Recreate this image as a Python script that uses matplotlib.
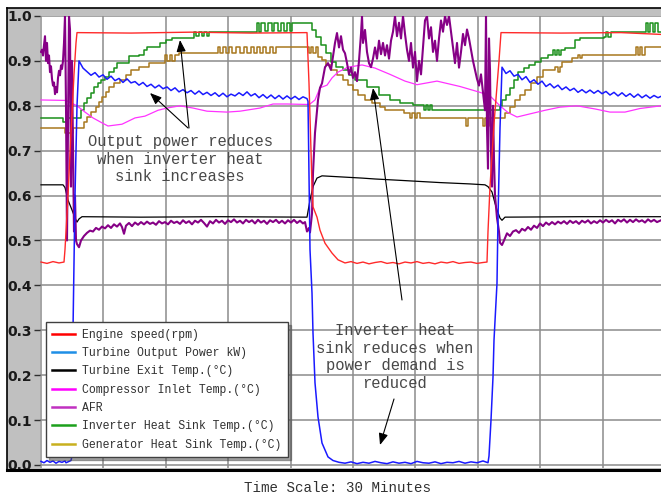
import numpy as np
import matplotlib
matplotlib.use("Agg")
import matplotlib.pyplot as plt
from matplotlib.lines import Line2D
from matplotlib.patches import Rectangle

# ---------------- data (x = logger sample index, 20.8 samples per minute) ----------------
SAMPLES_PER_MIN = 20.8

series_labels = ["Engine speed(rpm)", "Turbine Output Power kW)", "Turbine Exit Temp.(\u00b0C)",
                 "Compressor Inlet Temp.(\u00b0C)", "AFR", "Inverter Heat Sink Temp.(\u00b0C)",
                 "Generator Heat Sink Temp.(\u00b0C)"]

engine_x = [0, 6, 12, 18, 23, 24, 27, 30, 33, 35, 36, 90, 150, 210, 266, 268, 270, 271, 272,
            276, 279, 284, 291, 297, 304,
            310, 316, 322, 328, 334, 340, 346, 352, 358, 364, 370, 376, 382, 388, 394, 400, 406,
            412, 418, 424, 430, 436, 442,
            446, 447, 449, 453, 458, 460, 520, 580, 620]
engine_y = [0.452, 0.449, 0.453, 0.450, 0.452, 0.48, 0.60, 0.74, 0.87, 0.94, 0.963, 0.962, 0.964,
            0.962, 0.963, 0.85, 0.70, 0.62, 0.575,
            0.552, 0.523, 0.494, 0.472, 0.457, 0.450,
            0.453, 0.449, 0.452, 0.448, 0.451, 0.453, 0.449, 0.451, 0.448, 0.452, 0.450, 0.453,
            0.449, 0.451, 0.448, 0.452, 0.450, 0.453, 0.449, 0.451, 0.452, 0.449, 0.451,
            0.452, 0.52, 0.62, 0.76, 0.90, 0.963, 0.962, 0.963, 0.959]

power_x = ([0, 3, 6, 9, 12, 15, 18, 21, 24, 25, 30, 31, 32, 34, 36]
           + list(range(38, 267, 4))
           + [267, 269, 271, 272, 274, 277, 281, 287]
           + list(range(292, 443, 6))
           + [446, 447, 448, 450, 452, 453, 456, 457, 459]
           + list(range(461, 618, 4)) + [620])
power_y = ([0.008, 0.005, 0.010, 0.006, 0.009, 0.004, 0.008, 0.006, 0.009, 0.005, 0.01, 0.02,
            0.30, 0.60, 0.80]
           + [0.900, 0.884, 0.876, 0.868, 0.874, 0.864, 0.869, 0.859, 0.866, 0.856,
              0.861, 0.852, 0.860, 0.851, 0.854, 0.846, 0.852, 0.843, 0.848, 0.840,
              0.846, 0.838, 0.842, 0.834, 0.840, 0.831, 0.836, 0.829, 0.834, 0.826,
              0.833, 0.825, 0.830, 0.823, 0.829, 0.821, 0.828, 0.820, 0.826, 0.822,
              0.829, 0.823, 0.831, 0.822, 0.827, 0.818, 0.825, 0.817, 0.824, 0.816,
              0.823, 0.815, 0.822, 0.815, 0.821, 0.814, 0.820, 0.816]
           + [0.81, 0.48, 0.383, 0.294, 0.183, 0.107, 0.049, 0.018]
           + [0.010, 0.006, 0.004, 0.007, 0.003, 0.006, 0.004, 0.008, 0.005, 0.003, 0.007,
              0.004, 0.006, 0.003, 0.008, 0.005, 0.004, 0.007, 0.003, 0.006, 0.005, 0.008,
              0.004, 0.007, 0.005, 0.009]
           + [0.006, 0.005, 0.02, 0.10, 0.196, 0.278, 0.405, 0.55, 0.75]
           + [0.886, 0.872, 0.878, 0.866, 0.870, 0.858, 0.865, 0.852, 0.858, 0.848,
              0.855, 0.843, 0.849, 0.840, 0.846, 0.836, 0.842, 0.834, 0.839, 0.830,
              0.836, 0.829, 0.835, 0.828, 0.834, 0.827, 0.832, 0.824, 0.830, 0.822,
              0.829, 0.821, 0.827, 0.819, 0.826, 0.818, 0.824, 0.817, 0.823, 0.818]
           + [0.821])

exit_x = [0, 22, 24, 27, 31, 34, 36, 38, 41, 100, 180, 266, 269, 272, 276, 281, 321, 334, 359,
          399, 429, 444, 447, 451, 454, 456, 459, 461, 464, 540, 620]
exit_y = [0.624, 0.624, 0.618, 0.59, 0.568, 0.55, 0.541, 0.548, 0.553, 0.552, 0.553, 0.552, 0.59,
          0.62, 0.639, 0.644, 0.639, 0.637, 0.634, 0.629, 0.626, 0.624, 0.62, 0.608, 0.583, 0.568,
          0.55, 0.545, 0.552, 0.553, 0.553]

inlet_x = [0, 24, 27, 36, 44, 52, 61, 67, 81, 94, 104, 117, 126, 139, 152, 166, 186, 199, 219,
           232, 246, 266, 269, 274, 279, 286, 291, 297, 307, 321, 334, 349, 364, 376, 396, 419,
           439, 449, 459, 467, 476, 489, 504, 519, 536, 554, 569, 584, 599, 620]
inlet_y = [0.813, 0.812, 0.81, 0.80, 0.786, 0.773, 0.762, 0.755, 0.759, 0.773, 0.777, 0.79, 0.795,
           0.80, 0.795, 0.788, 0.786, 0.788, 0.795, 0.804, 0.804, 0.803, 0.804, 0.813, 0.84, 0.846,
           0.862, 0.875, 0.886, 0.891, 0.884, 0.87, 0.855, 0.847, 0.855, 0.843, 0.83, 0.822, 0.80,
           0.785, 0.775, 0.782, 0.79, 0.797, 0.80, 0.793, 0.786, 0.786, 0.794, 0.80]

afr_x = ([0, 1, 2, 3, 4, 5, 6, 7, 8, 9, 10, 11, 12, 13, 14, 15, 16, 17, 18, 19, 20, 21, 22, 23,
          24, 25, 26, 27, 28, 29, 30, 31, 32, 33, 34, 35, 36, 38, 40]
         + [43, 46, 49, 52, 55, 58, 61, 64, 67, 70, 73, 76, 79, 81, 83, 85, 88, 91, 94, 97, 100,
            103, 106, 109, 112, 115, 118, 121, 124, 127, 130, 133, 136, 139, 142, 145, 148, 151,
            154, 157, 160, 163, 166, 169, 172, 175, 178, 181, 184, 187, 190, 193, 196, 199, 202,
            205, 208, 211, 214, 217, 220, 223, 226, 229, 232, 235, 238, 241, 244, 247, 250, 253,
            256, 259, 262, 264]
         + [266, 268, 269, 271, 272, 274, 277, 279, 281, 284, 287, 290, 292, 294, 296, 298, 300,
            302, 304, 306, 308, 310, 312, 314, 316, 318, 320, 321, 322, 324, 326, 328, 330, 332,
            334, 336, 338, 340, 342, 344, 346, 348, 350, 352, 354, 356, 358, 360, 362, 364, 366,
            368, 370, 372, 374, 376, 378, 380, 382, 384, 386, 388, 390, 392, 394, 396, 398, 400,
            402, 404, 406, 408, 410, 412, 414, 416, 418, 420, 422, 424, 426, 428, 430, 432, 434,
            436, 438, 440, 442, 444, 445, 446, 447, 448, 449, 450, 451, 452, 453, 454, 456, 458]
         + [459, 461, 463, 466, 469, 472, 475, 478, 481, 484, 487, 490, 493, 496, 499, 502, 505,
            508, 511, 514, 517, 520, 523, 526, 529, 532, 535, 538, 541, 544, 547, 550, 553, 556,
            559, 562, 565, 568, 571, 574, 577, 580, 583, 586, 589, 592, 595, 598, 601, 604, 607,
            610, 613, 616, 620])
afr_y = ([0.92, 0.925, 0.912, 0.935, 0.955, 0.90, 0.94, 0.895, 0.912, 0.875, 0.888, 0.86, 0.845,
          0.852, 0.826, 0.842, 0.83, 0.862, 0.878, 0.868, 0.89, 0.882, 0.90, 0.94, 1.0, 0.80,
          0.50, 0.75, 1.0, 0.97, 0.62, 0.90, 0.70, 0.52, 0.60, 0.50, 0.492, 0.485, 0.50]
         + [0.51, 0.517, 0.522, 0.52, 0.528, 0.524, 0.531, 0.527, 0.534, 0.528, 0.536, 0.531,
            0.538, 0.53, 0.515, 0.533, 0.539, 0.532, 0.54, 0.535, 0.541, 0.536, 0.542, 0.537,
            0.54, 0.535, 0.543, 0.538, 0.541, 0.536, 0.544, 0.539, 0.542, 0.537, 0.545, 0.539,
            0.543, 0.536, 0.544, 0.54, 0.546, 0.539, 0.531, 0.543, 0.538, 0.546, 0.54, 0.544,
            0.537, 0.545, 0.541, 0.547, 0.54, 0.544, 0.538, 0.546, 0.541, 0.545, 0.538, 0.546,
            0.54, 0.544, 0.537, 0.545, 0.541, 0.546, 0.539, 0.544, 0.538, 0.545, 0.54, 0.546,
            0.539, 0.544, 0.538, 0.541]
         + [0.52, 0.528, 0.518, 0.56, 0.65, 0.74, 0.813, 0.84, 0.85, 0.886, 0.895, 0.88, 0.91,
            0.94, 0.962, 0.93, 0.955, 0.925, 0.917, 0.895, 0.87, 0.885, 0.862, 0.875, 0.855,
            0.90, 0.96, 1.0, 0.94, 0.969, 0.92, 0.895, 0.886, 0.905, 0.93, 0.905, 0.945, 0.915,
            0.94, 0.912, 0.935, 0.905, 0.945, 0.965, 1.0, 0.955, 0.985, 0.95, 1.0, 0.96, 0.925,
            0.90, 0.94, 0.885, 0.92, 0.855, 0.90, 0.87, 0.93, 0.99, 1.0, 0.95, 0.975, 0.92,
            0.945, 0.90, 0.95, 0.99, 0.965, 1.0, 0.98, 1.0, 0.965, 0.93, 0.895, 0.94, 0.885,
            0.92, 0.96, 0.935, 0.97, 0.95, 0.925, 0.90, 0.88, 0.86, 0.845, 0.87, 0.83, 0.79,
            1.0, 0.75, 0.66, 0.95, 0.88, 0.70, 0.62, 0.80, 0.68, 0.60, 0.55, 0.52]
         + [0.495, 0.49, 0.50, 0.516, 0.51, 0.52, 0.523, 0.517, 0.526, 0.522, 0.53, 0.524, 0.533,
            0.528, 0.538, 0.532, 0.54, 0.535, 0.541, 0.536, 0.542, 0.538, 0.543, 0.537, 0.544,
            0.539, 0.543, 0.537, 0.544, 0.54, 0.545, 0.538, 0.543, 0.539, 0.545, 0.54, 0.546,
            0.541, 0.545, 0.538, 0.546, 0.542, 0.547, 0.54, 0.546, 0.541, 0.547, 0.542, 0.545,
            0.54, 0.547, 0.542, 0.546, 0.541, 0.545])

inverter_x = [0, 22, 25, 40, 43, 46, 50, 53, 57, 60, 64, 68, 73, 76, 88, 98, 103, 106, 119, 125,
              131, 153, 155, 158, 161, 163, 166, 168, 216, 218, 220, 224, 227, 231, 233, 237, 240,
              243, 246, 249, 251, 271, 275, 280, 285, 290, 295, 302, 308, 314, 326, 338, 349, 359,
              372, 383, 385, 387, 389, 391, 459, 461, 465, 469, 473, 477, 483, 488, 494, 500, 507,
              512, 514, 516, 518, 520, 524, 534, 539, 563, 565, 567, 570, 605, 607, 609, 612, 614,
              617, 620]
inverter_y = [0.773, 0.764, 0.773, 0.79, 0.806, 0.817, 0.828, 0.842, 0.85, 0.857, 0.864, 0.875,
              0.884, 0.895, 0.91, 0.913, 0.924, 0.931, 0.94, 0.947, 0.95, 0.965, 0.955, 0.965,
              0.955, 0.965, 0.955, 0.965, 0.984, 0.965, 0.984, 0.967, 0.984, 0.967, 0.984, 0.967,
              0.984, 0.967, 0.984, 0.967, 0.984, 0.969, 0.953, 0.935, 0.917, 0.898, 0.886, 0.88,
              0.868, 0.857, 0.842, 0.824, 0.813, 0.806, 0.802, 0.79, 0.802, 0.79, 0.802, 0.79,
              0.80, 0.813, 0.824, 0.84, 0.857, 0.875, 0.884, 0.89, 0.898, 0.906, 0.913, 0.924,
              0.913, 0.924, 0.913, 0.924, 0.929, 0.947, 0.95, 0.953, 0.965, 0.953, 0.965, 0.984,
              0.965, 0.984, 0.965, 0.984, 0.965, 0.965]

generator_x = [0, 24, 32, 43, 46, 50, 55, 58, 61, 65, 68, 73, 79, 85, 90, 98, 108, 124, 126, 129,
               131, 134, 138, 177, 179, 182, 185, 188, 191, 195, 199, 203, 206, 210, 213, 216,
               219, 222, 225, 229, 232, 235, 268, 270, 272, 275, 277, 281, 285, 290, 296, 302,
               307, 312, 317, 324, 331, 339, 344, 363, 369, 371, 374, 376, 379, 425, 427, 442,
               444, 446, 448, 464, 469, 474, 479, 484, 490, 496, 502, 514, 517, 519, 521, 531,
               537, 539, 541, 595, 597, 599, 601, 604, 620]
generator_y = [0.75, 0.739, 0.75, 0.764, 0.775, 0.786, 0.797, 0.808, 0.82, 0.83, 0.842, 0.85,
               0.857, 0.868, 0.88, 0.886, 0.895, 0.913, 0.90, 0.913, 0.90, 0.913, 0.918, 0.93,
               0.918, 0.93, 0.918, 0.93, 0.918, 0.93, 0.918, 0.93, 0.918, 0.93, 0.918, 0.93,
               0.918, 0.93, 0.918, 0.93, 0.918, 0.93, 0.918, 0.93, 0.918, 0.93, 0.909, 0.902,
               0.891, 0.88, 0.868, 0.857, 0.846, 0.835, 0.824, 0.813, 0.806, 0.797, 0.79, 0.784,
               0.773, 0.784, 0.773, 0.784, 0.773, 0.755, 0.773, 0.755, 0.773, 0.755, 0.773,
               0.784, 0.797, 0.813, 0.824, 0.835, 0.85, 0.864, 0.88, 0.886, 0.875, 0.886, 0.898,
               0.906, 0.913, 0.906, 0.913, 0.93, 0.913, 0.93, 0.913, 0.93, 0.93]

y_ticks = [0.0, 0.1, 0.2, 0.3, 0.4, 0.5, 0.6, 0.7, 0.8, 0.9, 1.0]

# ---------------- figure ----------------
W, H = 661, 495
fig = plt.figure(figsize=(W / 100, H / 100), dpi=100)
fig.patch.set_facecolor("white")


def fx(px):
    return px / W


def fy(py):
    return 1 - py / H


# grey instrument frame
fig.add_artist(Rectangle((fx(7), fy(470)), 1.0, (470 - 8) / H, transform=fig.transFigure,
                         facecolor="#c0c0c0", edgecolor="none", zorder=0))
fig.add_artist(Line2D([fx(7), fx(7)], [fy(8), fy(470)], transform=fig.transFigure,
                      color="black", lw=1.2, zorder=1))
fig.add_artist(Line2D([fx(7), 1.0], [fy(8), fy(8)], transform=fig.transFigure,
                      color="black", lw=1.2, zorder=1))
fig.add_artist(Line2D([fx(7), 1.0], [fy(469.5), fy(469.5)], transform=fig.transFigure,
                      color="black", lw=2.2, zorder=1))

ax = fig.add_axes([fx(40), fy(467.5), 1 - fx(40), (467.5 - 15.5) / H])
ax.set_facecolor("white")
ax.set_xlim(-1, 620)
ax.set_ylim(-2.5 / 449, 1 + 0.5 / 449)
for s in ax.spines.values():
    s.set_visible(False)

grid_step = 3 * SAMPLES_PER_MIN
ax.set_xticks([k * grid_step for k in range(10)])
ax.set_xticklabels([])
ax.tick_params(axis="x", length=0)
ax.set_yticks(y_ticks)
ax.set_yticklabels([f"{v:.1f}" for v in y_ticks])
ax.tick_params(axis="y", direction="out", length=4, width=1.0, color="#303030", pad=2,
               labelsize=10, labelcolor="#1a1a1a")
for lbl in ax.get_yticklabels():
    lbl.set_fontweight("bold")
ax.grid(True, color="#8c8c8c", lw=1.1)
ax.set_axisbelow(True)

ax.step(generator_x, generator_y, where="post", color="#a8781e", lw=1.1, zorder=2)
ax.step(inverter_x, inverter_y, where="post", color="#1a8f1a", lw=1.1, zorder=3)
ax.plot(inlet_x, inlet_y, color="#ff33ff", lw=0.9, zorder=4)
ax.plot(exit_x, exit_y, color="black", lw=0.9, zorder=5)
ax.plot(afr_x, afr_y, color="#860086", lw=1.5, zorder=6)
ax.plot(power_x, power_y, color="#1a1aff", lw=1.1, zorder=7)
ax.plot(engine_x, engine_y, color="#ff2a2a", lw=1.0, zorder=8)

# annotations
note_font = dict(family="Liberation Mono", size=11.2, color="#484848")
ax.text(139, 0.6815, "Output power reduces\nwhen inverter heat\nsink increases",
        ha="center", va="center", multialignment="center", linespacing=1.2, zorder=9, **note_font)
ax.text(354, 0.2405, "Inverter heat\nsink reduces when\npower demand is\nreduced",
        ha="center", va="center", multialignment="center", linespacing=1.2, zorder=9, **note_font)

arrow_kw = dict(arrowstyle="-|>,head_length=0.5,head_width=0.2", color="black", lw=0.8,
                shrinkA=0, shrinkB=0, mutation_scale=14)
ax.annotate("", xy=(109, 0.8285), xytext=(147, 0.7506), arrowprops=arrow_kw, zorder=10)
ax.annotate("", xy=(139, 0.9465), xytext=(148, 0.7506), arrowprops=arrow_kw, zorder=10)
ax.annotate("", xy=(332, 0.8396), xytext=(361, 0.3675), arrowprops=arrow_kw, zorder=10)
ax.annotate("", xy=(339, 0.0445), xytext=(353, 0.147), arrowprops=arrow_kw, zorder=10)

# legend
legend_colors = ["#ff0000", "#1e8fe6", "#000000", "#ff00ff", "#c030c0", "#1ca01c", "#c8b01e"]
handles = [Line2D([], [], color=c, lw=1.8) for c in legend_colors]
leg = ax.legend(handles, series_labels, loc="lower left", bbox_to_anchor=(fx(46), fy(457)),
                bbox_transform=fig.transFigure, prop=dict(family="Liberation Mono", size=8.3),
                frameon=True, fancybox=False, shadow=True, framealpha=1, edgecolor="#404040",
                borderaxespad=0, borderpad=0.55, labelspacing=0.55, handlelength=2.0,
                handletextpad=0.6)
leg.get_frame().set_linewidth(1.0)
leg.set_zorder(11)
for t in leg.get_texts():
    t.set_color("#303030")

fig.text(fx(337), fy(488), "Time Scale: 30 Minutes", ha="center", va="center",
         family="Liberation Mono", size=10.2, color="#303030")

fig.savefig("out.png", dpi=100)
